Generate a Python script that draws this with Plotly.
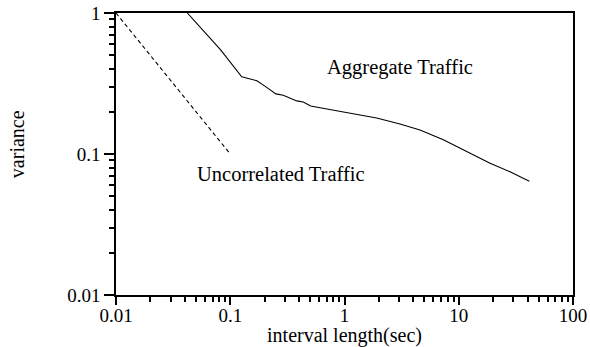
import plotly.graph_objects as go

# Aggregate traffic variance vs. interval length
agg_interval = [0.0421, 0.0824, 0.126, 0.171, 0.201, 0.251, 0.291, 0.382, 0.435,
                0.506, 0.611, 1.117, 1.91, 3.06, 4.58, 7.33, 11.7, 18.8, 28.1, 41.5]
agg_variance = [1.0, 0.547, 0.353, 0.331, 0.303, 0.267, 0.261, 0.238, 0.234,
                0.219, 0.213, 0.196, 0.180, 0.163, 0.148, 0.126, 0.104, 0.0859, 0.0748, 0.0640]

# Uncorrelated traffic reference (slope -1)
unc_interval = [0.01, 0.1]
unc_variance = [1.0, 0.1]

x_tickvals = [0.01, 0.1, 1, 10, 100]
x_ticktext = ["0.01", "0.1", "1", "10", "100"]
y_tickvals = [0.01, 0.1, 1]
y_ticktext = ["0.01", "0.1", "1"]


def minor_ticks(decades):
    return [m * 10.0 ** d for d in decades for m in range(2, 10)]


FONT = "Liberation Serif, Times New Roman, serif"

fig = go.Figure()
fig.add_trace(go.Scatter(x=agg_interval, y=agg_variance, mode="lines",
                         line=dict(color="black", width=1.1), showlegend=False))
fig.add_trace(go.Scatter(x=unc_interval, y=unc_variance, mode="lines",
                         line=dict(color="black", width=1.1, dash="4px,3px"), showlegend=False))

fig.update_layout(
    width=590, height=347,
    margin=dict(l=116, r=17, t=13, b=52),
    paper_bgcolor="white", plot_bgcolor="white",
    font=dict(family=FONT, size=19, color="black"),
    showlegend=False,
)

fig.update_xaxes(
    type="log", range=[-2, 2], automargin=False,
    tickmode="array", tickvals=x_tickvals, ticktext=x_ticktext,
    ticks="outside", ticklen=8, tickwidth=1.5, tickcolor="black",
    minor=dict(ticks="outside", ticklen=5, tickwidth=1.5, tickcolor="black",
               tickmode="array", tickvals=minor_ticks([-2, -1, 0, 1]), showgrid=False),
    showline=True, linecolor="black", linewidth=1.5, mirror=True,
    showgrid=False, zeroline=False,
    tickfont=dict(size=19), ticklabelstandoff=-6,
    title=dict(text="interval length(sec)", standoff=4, font=dict(size=20)),
)
fig.update_yaxes(
    type="log", range=[-2, 0], automargin=False,
    tickmode="array", tickvals=y_tickvals, ticktext=y_ticktext,
    ticks="outside", ticklen=10, tickwidth=1.5, tickcolor="black",
    minor=dict(ticks="outside", ticklen=5, tickwidth=1.5, tickcolor="black",
               tickmode="array", tickvals=minor_ticks([-2, -1]), showgrid=False),
    showline=True, linecolor="black", linewidth=1.5, mirror=True,
    showgrid=False, zeroline=False,
    tickfont=dict(size=19),
)

fig.add_annotation(text="Aggregate Traffic", x=0.486, y=-0.39, xref="x", yref="y",
                   showarrow=False, font=dict(size=20.5))
fig.add_annotation(text="Uncorrelated Traffic", x=-0.556, y=-1.14, xref="x", yref="y",
                   showarrow=False, font=dict(size=20.5))
fig.add_annotation(text="variance", x=-0.2166, y=0.535, xref="paper", yref="paper",
                   xanchor="center", yanchor="middle",
                   textangle=-90, showarrow=False, font=dict(size=20))

fig.write_html("out.html")
